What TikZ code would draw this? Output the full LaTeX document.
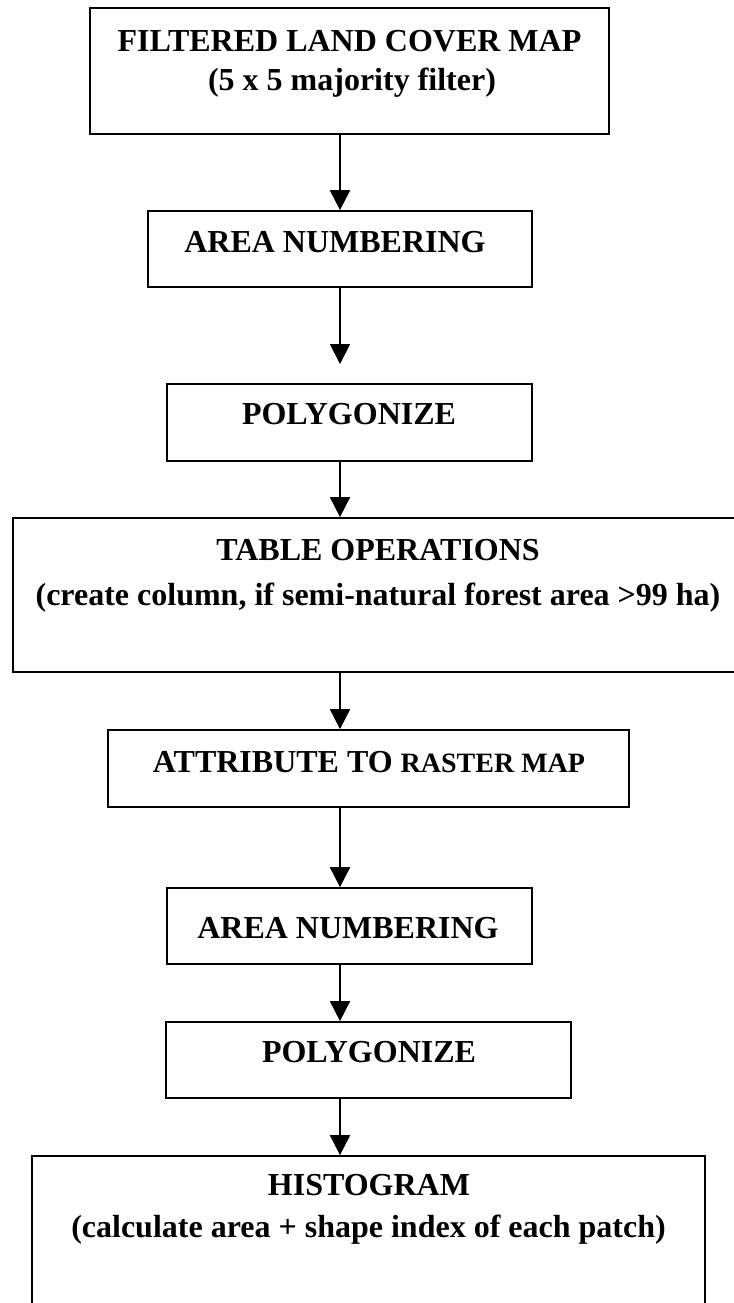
\documentclass[tikz,border=0pt]{standalone}
\usepackage{fontspec}
\setmainfont{Liberation Serif}
\usetikzlibrary{arrows.meta,fit}
\begin{document}
\begin{tikzpicture}[x=0.75pt,y=-0.75pt,
  box/.style={draw,line width=1.3pt,inner sep=0pt},
  lbl/.style={font=\bfseries\fontsize{24}{28}\selectfont,inner sep=0pt,anchor=base},
  flow/.style={line width=1.4pt,-{Triangle[length=15pt,width=15pt]}}]
\useasboundingbox (0,0) rectangle (733,1303);
% boxes
\node[box,fit={(90,8) (609,134)}] (b1) {};
\node[box,fit={(148,211) (532,287)}] (b2) {};
\node[box,fit={(167,384) (532,461)}] (b3) {};
\node[box,fit={(13,518) (745,672)}] (b4) {};
\node[box,fit={(108,730) (629,807)}] (b5) {};
\node[box,fit={(167,888) (532,964)}] (b6) {};
\node[box,fit={(166,1022) (571,1098)}] (b7) {};
\node[box,fit={(32,1156) (705,1320)}] (b8) {};
% texts
\node[lbl] (l1a) at (349.5,51) {FILTERED LAND COVER MAP};
\node[lbl] (l1b) at (352,90) {(5 x 5 majority filter)};
\node[lbl] (l2) at (335,252) {AREA NUMBERING};
\node[lbl] (l3) at (349,424) {POLYGONIZE};
\node[lbl] (l4a) at (378,560) {TABLE OPERATIONS};
\node[lbl] (l4b) at (378,605) {(create column, if semi-natural forest area >99 ha)};
\node[lbl] (l5) at (369,772) {ATTRIBUTE TO {\fontsize{21}{25}\selectfont RASTER MAP}};
\node[lbl] (l6) at (348,938) {AREA NUMBERING};
\node[lbl] (l7) at (369,1062) {POLYGONIZE};
\node[lbl] (l8a) at (369,1195) {HISTOGRAM};
\node[lbl] (l8b) at (368.5,1237) {(calculate area + shape index of each patch)};
% connectors
\coordinate (ax) at (340,0);
\coordinate (tip2) at (340,364);
\draw[flow] (b1.south -| ax) -- (b2.north -| ax);
\draw[flow] (b2.south -| ax) -- (tip2);
\draw[flow] (b3.south -| ax) -- (b4.north -| ax);
\draw[flow] (b4.south -| ax) -- (b5.north -| ax);
\draw[flow] (b5.south -| ax) -- (b6.north -| ax);
\draw[flow] (b6.south -| ax) -- (b7.north -| ax);
\draw[flow] (b7.south -| ax) -- (b8.north -| ax);
\end{tikzpicture}
\end{document}
